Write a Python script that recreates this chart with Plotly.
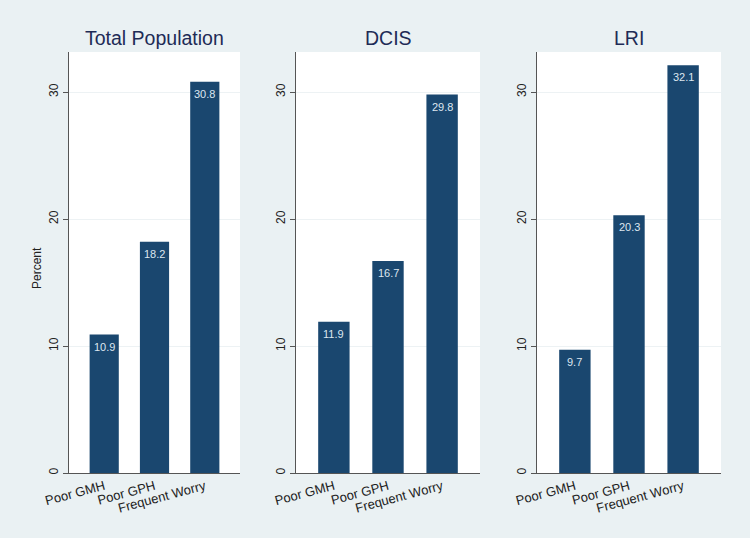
import plotly.graph_objects as go

categories = ["Poor GMH", "Poor GPH", "Frequent Worry"]
panel_titles = ["Total Population", "DCIS", "LRI"]
total_population = [10.9, 18.2, 30.8]
dcis = [11.9, 16.7, 29.8]
lri = [9.7, 20.3, 32.1]
y_ticks = [0, 10, 20, 30]

series = [total_population, dcis, lri]

W, H = 750, 538
BG = "#eaf1f3"
BAR = "#1a476f"
TITLE_C = "#1e2b56"

# pixel extents of the plot areas
x_px = [(69, 240), (296, 480), (537, 721)]
y_top, y_bot = 52, 473

fig = go.Figure()
for i, vals in enumerate(series):
    sfx = "" if i == 0 else str(i + 1)
    fig.add_trace(go.Bar(
        x=list(range(len(categories))), y=vals,
        xaxis="x" + sfx, yaxis="y" + sfx,
        marker=dict(color=BAR, line=dict(width=0)),
        width=0.58,
        showlegend=False, hoverinfo="skip",
    ))
    for j, v in enumerate(vals):
        fig.add_annotation(
            x=j, y=v, xref="x" + sfx, yref="y" + sfx,
            text=f"{v:.1f}", showarrow=False, yanchor="middle", yshift=-12,
            font=dict(family="Liberation Sans, Arial", size=11, color="#dde6ef"),
        )
    x0, x1 = x_px[i]
    fig.update_layout(**{
        "xaxis" + sfx: dict(
            domain=[x0 / W, x1 / W], anchor="y" + sfx,
            range=[-0.7, 2.7], automargin=False,
            tickmode="array", tickvals=list(range(len(categories))), ticktext=categories,
            tickangle=-15, ticks="", showgrid=False, zeroline=False,
            showline=True, linecolor="#555555", linewidth=1,
            tickfont=dict(family="Liberation Sans, Arial", size=13, color="#222222"),
            fixedrange=True,
        ),
        "yaxis" + sfx: dict(
            domain=[1 - y_bot / H, 1 - y_top / H], anchor="x" + sfx,
            range=[0, 33.15], automargin=False,
            tickmode="array", tickvals=y_ticks,
            tickangle=-90, ticks="outside", ticklen=5, tickcolor="#555555",
            showgrid=True, gridcolor="#edf2f4", gridwidth=1, zeroline=False,
            showline=True, linecolor="#555555", linewidth=1,
            tickfont=dict(family="Liberation Sans, Arial", size=12, color="#222222"),
            fixedrange=True,
        ),
    })
    fig.add_annotation(
        x=(x0 + x1) / 2 / W, y=1 - 38 / H, xref="paper", yref="paper",
        text=panel_titles[i], showarrow=False, xanchor="center", yanchor="middle",
        font=dict(family="Liberation Sans, Arial", size=19.5, color=TITLE_C),
    )

fig.add_annotation(
    x=37 / W, y=1 - 268 / H, xref="paper", yref="paper",
    text="Percent", showarrow=False, textangle=-90,
    xanchor="center", yanchor="middle",
    font=dict(family="Liberation Sans, Arial", size=12, color="#222222"),
)

fig.update_layout(
    width=W, height=H,
    margin=dict(l=0, r=0, t=0, b=0),
    paper_bgcolor=BG, plot_bgcolor="white",
    bargap=0.4,
)

fig.write_html("out.html", config={"displayModeBar": False},
               post_script="document.body.style.margin='0px';")
